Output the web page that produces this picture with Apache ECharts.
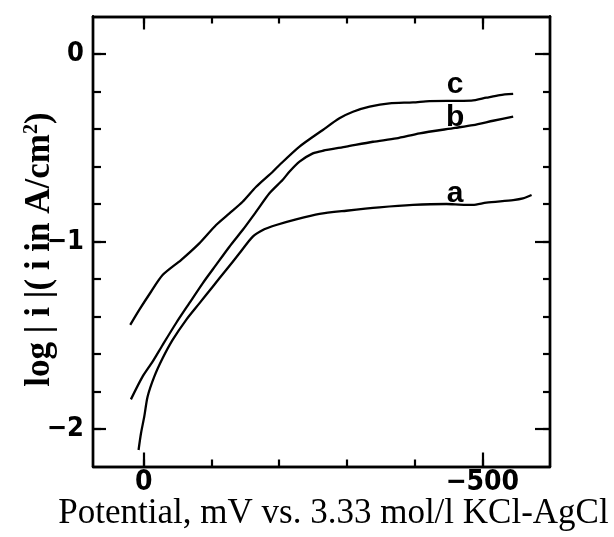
<!DOCTYPE html>
<html>
<head>
<meta charset="utf-8">
<script src="https://cdn.jsdelivr.net/npm/echarts@6/dist/echarts.min.js"></script>
<style>
html,body{margin:0;padding:0;background:#fff;}
#chart{width:614px;height:537px;}
</style>
</head>
<body>
<div id="chart"></div>
<script>
// ---- data (potential in mV, log|i|) ----
const curveNames = ['a', 'b', 'c'];
const potA = [7.7, 4.1, -0.7, -5.6, -15.5, -27.8, -42.6, -62.4, -82.1, -101.8, -121.6, -141.3, -161, -178, -195.6, -225, -259.6, -299, -348, -397.6, -447, -460, -486, -506, -545.6, -560, -572.8];
const logA = [-2.112, -2.023, -1.934, -1.828, -1.721, -1.623, -1.525, -1.419, -1.33, -1.241, -1.152, -1.063, -0.974, -0.935, -0.912, -0.882, -0.853, -0.836, -0.818, -0.805, -0.80, -0.802, -0.805, -0.793, -0.779, -0.770, -0.752];
const potB = [19, 1.8, -13, -27.8, -47.6, -67.3, -87, -106.8, -126.5, -146, -166, -185.6, -205, -215, -230, -249.7, -264.5, -299, -338.5, -373, -407.5, -460, -486.4, -516, -545.6];
const logB = [-1.842, -1.721, -1.641, -1.552, -1.436, -1.329, -1.223, -1.125, -1.028, -0.939, -0.841, -0.743, -0.672, -0.628, -0.574, -0.530, -0.516, -0.494, -0.468, -0.450, -0.423, -0.394, -0.379, -0.356, -0.334];
const potC = [20, 6.7, -10.7, -27.8, -55, -82, -106.8, -126.5, -146, -166, -190.5, -200.4, -230, -264.5, -289, -309, -333.6, -363, -397.6, -422, -460, -484, -506, -526, -545.6];
const logC = [-1.445, -1.365, -1.268, -1.179, -1.099, -1.01, -0.912, -0.85, -0.788, -0.708, -0.628, -0.592, -0.494, -0.405, -0.343, -0.308, -0.281, -0.263, -0.258, -0.251, -0.250, -0.249, -0.233, -0.219, -0.213];
const labelPotential = -460;

// ---- axes ----
const xMin = -600, xMax = 75;
const yMin = -2.2, yMax = 0.2;
const xTicks = [0, -100, -200, -300, -400, -500];
const xMajor = [0, -500];
const yTicks = [0, -0.2, -0.4, -0.6, -0.8, -1, -1.2, -1.4, -1.6, -1.8, -2];
const yMajor = [0, -1, -2];
const xTitle = 'Potential, mV vs. 3.33 mol/l KCl-AgCl';

const fmt = v => (v < 0 ? '\u2212' + Math.abs(v) : String(v));
const tickFont = "'Liberation Sans Narrow','DejaVu Sans Condensed','Liberation Sans',sans-serif";

function buildData(p, l, name) {
  let best = 0;
  p.forEach((v, i) => { if (Math.abs(v - labelPotential) < Math.abs(p[best] - labelPotential)) best = i; });
  return p.map((v, i) => {
    if (i !== best) return [v, l[i]];
    return {
      value: [v, l[i]],
      label: {
        show: true, formatter: name, position: 'top',
        distance: name === 'a' ? -5 : (name === 'b' ? -5 : 1),
        fontFamily: "'Liberation Sans','Arial',sans-serif", fontWeight: 'bold', fontSize: 30, color: '#000'
      }
    };
  });
}

function xAx(pos, ticks, len, labels) {
  return {
    type: 'value', position: pos, min: xMin, max: xMax, inverse: true,
    axisLine: { show: true, onZero: false, lineStyle: { color: '#000', width: 2.4 } },
    axisTick: { show: true, inside: true, length: len, customValues: ticks, lineStyle: { color: '#000', width: 2.2 } },
    axisLabel: labels ? { show: true, customValues: xMajor, formatter: fmt, margin: 2, fontFamily: tickFont, fontWeight: 'bold', fontSize: 28, color: '#000' } : { show: false },
    splitLine: { show: false }
  };
}
function yAx(pos, ticks, len, labels) {
  return {
    type: 'value', position: pos, min: yMin, max: yMax,
    axisLine: { show: true, onZero: false, lineStyle: { color: '#000', width: 2.4 } },
    axisTick: { show: true, inside: true, length: len, customValues: ticks, lineStyle: { color: '#000', width: 2.2 } },
    axisLabel: labels ? { show: true, customValues: yMajor, formatter: fmt, margin: 9, fontFamily: tickFont, fontWeight: 'bold', fontSize: 27, color: '#000' } : { show: false },
    splitLine: { show: false }
  };
}

const xAxes = [xAx('bottom', xTicks, 7, true), xAx('bottom', xMajor, 14, false), xAx('top', xTicks, 7, false), xAx('top', xMajor, 13, false)];
xAxes[0].name = xTitle;
xAxes[0].nameLocation = 'middle';
xAxes[0].nameGap = 30;
xAxes[0].nameMoveOverlap = false;
xAxes[0].nameTextStyle = { fontFamily: "'Liberation Serif','Times New Roman',serif", fontSize: 35, color: '#000', verticalAlign: 'top', padding: [0, 0, 0, 24] };

const yAxes = [yAx('left', yTicks, 8, true), yAx('left', yMajor, 13, false), yAx('right', yTicks, 7, false), yAx('right', yMajor, 15, false)];
yAxes[0].name = '{t|log | i |( i in A/cm}{s|2}{t|)}{p|}';
yAxes[0].nameLocation = 'middle';
yAxes[0].nameGap = 35;
yAxes[0].nameMoveOverlap = false;
yAxes[0].nameRotate = 90;
yAxes[0].nameTextStyle = {
  verticalAlign: 'bottom',
  rich: {
    t: { fontFamily: "'Liberation Serif','Times New Roman',serif", fontWeight: 'bold', fontSize: 35, color: '#000' },
    s: { fontFamily: "'Liberation Serif','Times New Roman',serif", fontWeight: 'bold', fontSize: 20, color: '#000', verticalAlign: 'top', padding: [0, 0, 16, 0] },
    p: { width: 16, fontSize: 35 }
  }
};

const lineStyle = { color: '#000', width: 2.3 };
const series = [[potA, logA], [potB, logB], [potC, logC]].map((d, i) => ({
  type: 'line', name: curveNames[i], xAxisIndex: 0, yAxisIndex: 0,
  data: buildData(d[0], d[1], curveNames[i]),
  showSymbol: true, symbol: 'circle', symbolSize: 1, smooth: 0.25, lineStyle: lineStyle,
  itemStyle: { color: 'rgba(0,0,0,0)' },
  label: { show: false }, emphasis: { disabled: true }, animation: false
}));

const chart = echarts.init(document.getElementById('chart'), null, { renderer: 'canvas' });
chart.setOption({
  backgroundColor: '#fff',
  animation: false,
  grid: { left: 93, right: 64, top: 16.5, bottom: 70.5, containLabel: false, outerBoundsMode: 'none' },
  xAxis: xAxes,
  yAxis: yAxes,
  series: series
});
</script>
</body>
</html>
